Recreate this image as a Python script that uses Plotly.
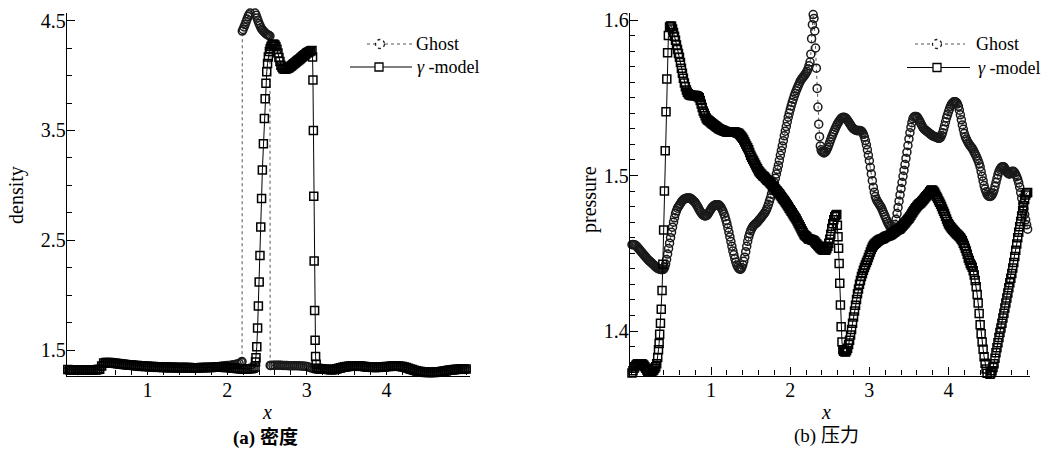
import plotly.graph_objects as go

DENS_STEP = 0.025    # base sampling grid of panel (a), x from 0 to 5
PRES_STEP = 0.0125   # base sampling grid of panel (b), x from 0 to 5

# ---------------- (a) density ----------------
dens_ghost_grid = [
    1.315, 1.316, 1.317, 1.316, 1.315, 1.314, 1.315, 1.316, 1.316, 1.315, 1.315, 1.316, 1.317, 1.316, 1.316, 1.317, 1.32,
    1.35, 1.375, 1.38, 1.381, 1.38, 1.378, 1.376, 1.373, 1.371, 1.369, 1.367, 1.365, 1.363, 1.361, 1.359, 1.357, 1.355, 1.353, 1.351, 1.35, 1.348, 1.347, 1.346, 1.345,
    1.344, 1.343, 1.342, 1.341, 1.34, 1.339, 1.338, 1.337, 1.336, 1.335, 1.335, 1.334, 1.334, 1.333, 1.333, 1.333, 1.333, 1.333, 1.333, 1.333,
    1.333, 1.333, 1.334, 1.334, 1.335, 1.336, 1.337, 1.338, 1.339, 1.34, 1.341, 1.342, 1.344, 1.346, 1.348, 1.35, 1.352, 1.354, 1.356, 1.358,
    1.36, 1.362, 1.365, 1.368, 1.372, 1.378, 1.388,
    4.42, 4.465, 4.515, 4.555, 4.58, 4.585, 4.57, 4.525, 4.475, 4.435, 4.41, 4.39, 4.375, 4.365,
    1.36, 1.361, 1.362, 1.362, 1.362, 1.361, 1.36, 1.359, 1.358, 1.357, 1.357, 1.357, 1.357, 1.357, 1.356, 1.355, 1.354, 1.352, 1.35,
    1.345, 1.338, 1.332, 1.328, 1.326, 1.325, 1.325, 1.325, 1.324, 1.322, 1.32, 1.318, 1.317, 1.318, 1.321, 1.325, 1.33, 1.335, 1.34, 1.343,
    1.346, 1.348, 1.35, 1.351, 1.351, 1.35, 1.349, 1.347, 1.345, 1.343, 1.341, 1.34, 1.339, 1.338, 1.338, 1.339, 1.34, 1.342, 1.344, 1.346,
    1.348, 1.35, 1.351, 1.351, 1.35, 1.348, 1.345, 1.341, 1.336, 1.33, 1.324, 1.318, 1.313, 1.308, 1.304, 1.3, 1.297, 1.295, 1.293, 1.292,
    1.291, 1.291, 1.291, 1.292, 1.293, 1.295, 1.297, 1.3, 1.303, 1.306, 1.309, 1.312, 1.315, 1.317, 1.319, 1.321, 1.322, 1.323, 1.323, 1.323,
]
dens_ghost_extra_x = [2.187, 2.19, 2.2125, 2.2375, 2.2625, 2.2875, 2.3125, 2.3375, 2.3625, 2.3875, 2.4125, 2.4375,
                      2.4625, 2.4875, 2.5125, 2.537, 2.54]
dens_ghost_extra_y = [1.395, 4.405, 4.443, 4.49, 4.537, 4.57, 4.585, 4.58, 4.55, 4.5, 4.455, 4.42,
                      4.4, 4.382, 4.37, 4.36, 1.36]

dens_gamma_grid = [
    1.322, 1.321, 1.32, 1.32, 1.319, 1.319, 1.32, 1.32, 1.32, 1.321, 1.321, 1.32, 1.32, 1.32, 1.321, 1.322, 1.325,
    1.355, 1.382, 1.386, 1.387, 1.386, 1.384, 1.382, 1.379, 1.377, 1.375, 1.373, 1.371, 1.369, 1.367, 1.365, 1.363, 1.361, 1.36, 1.358, 1.357, 1.355, 1.354, 1.353, 1.352,
    1.351, 1.35, 1.349, 1.348, 1.347, 1.347, 1.346, 1.345, 1.345, 1.344, 1.344, 1.343, 1.343, 1.342, 1.342, 1.341, 1.341, 1.34, 1.34, 1.34,
    1.34, 1.339, 1.339, 1.339, 1.339, 1.339, 1.34, 1.34, 1.341, 1.341, 1.342, 1.342, 1.343, 1.343, 1.344, 1.344, 1.344, 1.343, 1.342, 1.341,
    1.34, 1.338, 1.336, 1.334, 1.332, 1.33, 1.329, 1.328, 1.328, 1.328, 1.329, 1.33, 1.333, 1.345,
    None, None, None, None, None, None, None,
    4.265, 4.285, 4.278, 4.24, 4.165, 4.095, 4.065, 4.06, 4.063, 4.072, 4.085, 4.1, 4.115, 4.13, 4.145, 4.16, 4.175, 4.19, 4.205, 4.215, 4.225,
    None, None,
    1.335, 1.332, 1.33, 1.328, 1.326, 1.324, 1.322, 1.321, 1.322, 1.325, 1.329, 1.334, 1.339, 1.343, 1.347, 1.35,
    1.352, 1.354, 1.355, 1.356, 1.356, 1.355, 1.354, 1.352, 1.35, 1.348, 1.346, 1.345, 1.344, 1.343, 1.343, 1.344, 1.345, 1.346, 1.347, 1.349,
    1.351, 1.353, 1.354, 1.355, 1.355, 1.354, 1.352, 1.349, 1.345, 1.34, 1.334, 1.328, 1.322, 1.316, 1.311, 1.307, 1.304, 1.301, 1.299, 1.298,
    1.297, 1.297, 1.297, 1.298, 1.299, 1.301, 1.303, 1.306, 1.309, 1.312, 1.315, 1.318, 1.32, 1.322, 1.324, 1.326, 1.327, 1.328, 1.328, 1.328,
]
dens_gamma_extra_x = [2.356, 2.362, 2.372, 2.382, 2.392, 2.402, 2.412, 2.422, 2.432, 2.442, 2.455, 2.467, 2.477,
                      2.487, 2.497, 2.507, 2.517, 2.53, 2.54,
                      2.5625, 2.5875, 2.6125, 2.6375, 2.6625, 2.6875, 2.7125, 2.7375, 2.7625, 2.7875, 2.8125,
                      2.8375, 2.8625, 2.8875, 2.9125, 2.9375, 2.9625, 2.9875, 3.0125, 3.0375,
                      3.065, 3.072, 3.077, 3.082, 3.087, 3.092, 3.098, 3.104, 3.11, 3.117]
dens_gamma_extra_y = [1.39, 1.43, 1.53, 1.70, 1.90, 2.12, 2.36, 2.62, 2.88, 3.14, 3.38, 3.61, 3.79,
                      3.93, 4.035, 4.11, 4.17, 4.22, 4.245,
                      4.278, 4.285, 4.262, 4.205, 4.128, 4.077, 4.061, 4.06, 4.067, 4.078, 4.092,
                      4.107, 4.122, 4.137, 4.152, 4.167, 4.182, 4.197, 4.21, 4.22,
                      4.228, 4.17, 3.96, 3.50, 2.90, 2.31, 1.86, 1.59, 1.44, 1.37]

# ---------------- (b) pressure ----------------
pres_ghost_grid = [
    1.4555,
    1.4556, 1.4555, 1.4553, 1.455, 1.4543, 1.4535, 1.4528, 1.452, 1.4513, 1.4505,
    1.4498, 1.449, 1.4483, 1.4475, 1.4468, 1.446, 1.4454, 1.4448, 1.4443, 1.4437,
    1.4431, 1.4425, 1.4419, 1.4413, 1.4408, 1.4403, 1.44, 1.4398, 1.4396, 1.4395,
    1.4395, 1.4398, 1.4409, 1.443, 1.446, 1.4495, 1.453, 1.4565, 1.46, 1.4635,
    1.4668, 1.47, 1.4728, 1.4755, 1.4773, 1.479, 1.48, 1.481, 1.482, 1.483,
    1.4838, 1.4845, 1.4849, 1.4852, 1.4854, 1.4855, 1.4855, 1.4855, 1.4853, 1.485,
    1.4844, 1.4838, 1.4832, 1.4825, 1.4815, 1.4805, 1.4793, 1.478, 1.477, 1.476,
    1.4752, 1.4745, 1.4742, 1.474, 1.4742, 1.4745, 1.4755, 1.4765, 1.4775, 1.4785,
    1.4795, 1.4802, 1.4807, 1.481, 1.4812, 1.4812, 1.4812, 1.481, 1.4804, 1.4795,
    1.4783, 1.477, 1.4753, 1.4735, 1.4713, 1.469, 1.4663, 1.4635, 1.4605, 1.4575,
    1.4545, 1.4515, 1.449, 1.4465, 1.4443, 1.4425, 1.4412, 1.4403, 1.4398, 1.4398,
    1.4408, 1.4425, 1.4448, 1.4475, 1.451, 1.4545, 1.4577, 1.4605, 1.4627, 1.4645,
    1.4658, 1.467, 1.4678, 1.4685, 1.469, 1.4695, 1.4702, 1.471, 1.4718, 1.4725,
    1.4733, 1.4742, 1.475, 1.4758, 1.4768, 1.478, 1.4797, 1.4815, 1.4835, 1.4855,
    1.488, 1.4905, 1.493, 1.4955, 1.4983, 1.501, 1.5038, 1.5065, 1.5098, 1.513,
    1.516, 1.519, 1.5223, 1.5255, 1.5285, 1.5315, 1.5345, 1.5375, 1.54, 1.5425,
    1.5448, 1.547, 1.549, 1.551, 1.5528, 1.5545, 1.556, 1.5575, 1.559, 1.5605,
    1.5615, 1.5625, 1.5633, 1.564, 1.565, 1.566, 1.567, 1.5685, 1.5705, 1.573,
    None, None, None, None, None, None, None, None, None, None,
    None, 1.5155, 1.515, 1.5145, 1.5148, 1.5155, 1.5167, 1.518, 1.5197, 1.5215,
    1.5233, 1.525, 1.5265, 1.528, 1.5295, 1.531, 1.5323, 1.5335, 1.5345, 1.5355,
    1.5363, 1.537, 1.5373, 1.5375, 1.5373, 1.537, 1.5363, 1.5355, 1.5345, 1.5335,
    1.5325, 1.5315, 1.5307, 1.53, 1.5296, 1.5292, 1.529, 1.5288, 1.5289, 1.529,
    1.5288, 1.5285, 1.5277, 1.5265, 1.5247, 1.5225, 1.5197, 1.5165, 1.513, 1.5095,
    1.5053, 1.501, 1.4967, 1.4925, 1.4893, 1.4865, 1.4848, 1.4835, 1.4825, 1.4815,
    1.4805, 1.4795, 1.478, 1.4765, 1.475, 1.4735, 1.472, 1.4705, 1.4692, 1.468,
    1.467, 1.466, 1.4652, 1.465, 1.4662, 1.4685, 1.4718, 1.4755, 1.4795, 1.4835,
    1.4875, 1.4915, 1.4955, 1.4995, 1.5033, 1.507, 1.511, 1.515, 1.5193, 1.5235,
    1.5275, 1.531, 1.534, 1.5365, 1.5375, 1.538, 1.538, 1.5378, 1.537, 1.536,
    1.5348, 1.5335, 1.5322, 1.531, 1.5302, 1.5295, 1.529, 1.5285, 1.528, 1.5275,
    1.527, 1.5265, 1.526, 1.5255, 1.5253, 1.525, 1.5248, 1.5245, 1.5242, 1.524,
    1.524, 1.5245, 1.5258, 1.5275, 1.5297, 1.532, 1.5345, 1.537, 1.539, 1.541,
    1.5428, 1.5445, 1.5457, 1.5465, 1.5472, 1.5475, 1.5474, 1.547, 1.546, 1.5445,
    1.542, 1.539, 1.5358, 1.5325, 1.5297, 1.527, 1.525, 1.5235, 1.5222, 1.521,
    1.52, 1.519, 1.5183, 1.5175, 1.5163, 1.515, 1.5138, 1.5125, 1.511, 1.5095,
    1.5077, 1.5055, 1.5025, 1.4995, 1.4965, 1.4935, 1.4913, 1.4895, 1.488, 1.487,
    1.4866, 1.4865, 1.4868, 1.4875, 1.4888, 1.4905, 1.493, 1.4955, 1.498, 1.5005,
    1.5025, 1.504, 1.505, 1.5055, 1.5057, 1.5055, 1.5046, 1.5035, 1.5024, 1.5015,
    1.501, 1.501, 1.5017, 1.5025, 1.5027, 1.5025, 1.5017, 1.5005, 1.4992, 1.4975,
    1.4952, 1.4925, 1.489, 1.4855, 1.482, 1.4785, 1.475, 1.4715, 1.4683, 1.4655,
]
pres_ghost_extra_x = [2.26, 2.27, 2.28, 2.29, 2.30, 2.31, 2.32, 2.33, 2.34, 2.35, 2.36, 2.37, 2.38, 2.39]
pres_ghost_extra_y = [1.578, 1.588, 1.597, 1.6035, 1.601, 1.593, 1.582, 1.569, 1.556, 1.544, 1.533, 1.525, 1.519, 1.5165]

pres_gamma_grid = [
    1.373,
    1.3745, 1.376, 1.377, 1.378, 1.3786, 1.379, 1.379, 1.379, 1.379, 1.379,
    1.3785, 1.378, 1.377, 1.376, 1.375, 1.374, 1.3737, 1.3735, 1.3737, 1.374,
    1.3745, 1.375, 1.376, 1.377, 1.379, 1.383, None, None, None, None,
    None, None, None, None, None, None, None, 1.5955, 1.5962, 1.596,
    1.5942, 1.592, 1.5895, 1.587, 1.584, 1.581, 1.5785, 1.576, 1.5727, 1.569,
    1.5657, 1.5625, 1.5595, 1.557, 1.555, 1.5535, 1.5525, 1.552, 1.5517, 1.5515,
    1.5515, 1.5515, 1.5515, 1.5515, 1.5513, 1.551, 1.5507, 1.55, 1.5483, 1.546,
    1.5437, 1.5415, 1.54, 1.5385, 1.537, 1.536, 1.5355, 1.535, 1.5345, 1.534,
    1.5335, 1.533, 1.5325, 1.532, 1.5315, 1.531, 1.5305, 1.53, 1.5297, 1.5295,
    1.5292, 1.529, 1.5287, 1.5285, 1.5282, 1.528, 1.528, 1.528, 1.528, 1.528,
    1.528, 1.528, 1.528, 1.528, 1.5278, 1.5275, 1.5273, 1.527, 1.5263, 1.5255,
    1.5248, 1.524, 1.5228, 1.5215, 1.5203, 1.519, 1.5178, 1.5165, 1.5148, 1.513,
    1.5118, 1.5105, 1.5093, 1.508, 1.5068, 1.5055, 1.5043, 1.503, 1.5022, 1.5015,
    1.5008, 1.5, 1.4995, 1.499, 1.4983, 1.4975, 1.497, 1.4965, 1.4958, 1.495,
    1.4943, 1.4935, 1.4928, 1.492, 1.4913, 1.4905, 1.4898, 1.489, 1.4883, 1.4875,
    1.4865, 1.4855, 1.4848, 1.484, 1.483, 1.482, 1.481, 1.48, 1.479, 1.478,
    1.477, 1.476, 1.475, 1.474, 1.473, 1.472, 1.4708, 1.4695, 1.4683, 1.467,
    1.4658, 1.4645, 1.4633, 1.462, 1.4615, 1.461, 1.4603, 1.4595, 1.4592, 1.459,
    1.4588, 1.4585, 1.4583, 1.458, 1.4573, 1.4565, 1.4558, 1.455, 1.4543, 1.4535,
    1.453, 1.4525, 1.4522, 1.452, 1.452, 1.452, 1.453, 1.4545, 1.4565, 1.459,
    1.4623, 1.466, 1.469, 1.4715, 1.4735, 1.4745, None, None, None, None,
    None, None, None, 1.387, 1.3866, 1.3865, 1.3875, 1.389, 1.3913, 1.394,
    1.3975, 1.401, 1.405, 1.409, 1.4128, 1.4165, 1.4203, 1.424, 1.427, 1.43,
    1.4325, 1.435, 1.437, 1.439, 1.4408, 1.4425, 1.444, 1.4455, 1.4473, 1.449,
    1.4508, 1.4525, 1.4538, 1.455, 1.4558, 1.4565, 1.457, 1.4575, 1.458, 1.4585,
    1.4588, 1.459, 1.4593, 1.4595, 1.46, 1.4605, 1.4608, 1.461, 1.4613, 1.4615,
    1.4618, 1.462, 1.4625, 1.463, 1.4635, 1.464, 1.4645, 1.465, 1.4653, 1.4655,
    1.466, 1.4665, 1.4673, 1.468, 1.4688, 1.4695, 1.4703, 1.471, 1.4718, 1.4725,
    1.4735, 1.4745, 1.4755, 1.4765, 1.4775, 1.4785, 1.4793, 1.48, 1.4808, 1.4815,
    1.482, 1.4825, 1.4833, 1.484, 1.4848, 1.4855, 1.4863, 1.487, 1.4878, 1.4885,
    1.4895, 1.4903, 1.4907, 1.4905, 1.4898, 1.489, 1.4878, 1.4865, 1.4853, 1.484,
    1.4828, 1.4815, 1.48, 1.4785, 1.477, 1.4755, 1.4738, 1.472, 1.4705, 1.469,
    1.468, 1.467, 1.4663, 1.4655, 1.4648, 1.464, 1.4633, 1.4625, 1.462, 1.4615,
    1.4608, 1.46, 1.459, 1.458, 1.4565, 1.455, 1.4533, 1.4515, 1.4493, 1.447,
    1.4453, 1.4435, 1.4423, 1.441, 1.4388, 1.436, 1.4325, 1.4285, 1.4235, 1.418,
    1.4113, 1.404, 1.3983, 1.393, 1.3882, 1.3835, 1.3793, 1.3755, 1.3728, 1.3708,
    1.3712, 1.3722, 1.3732, 1.3745, 1.3765, 1.379, 1.3825, 1.386, 1.3893, 1.3925,
    1.3958, 1.399, 1.402, 1.405, 1.4083, 1.4115, 1.4148, 1.418, 1.4213, 1.4245,
    1.4278, 1.431, 1.434, 1.437, 1.4405, 1.444, 1.448, 1.452, 1.456, 1.46,
    1.4635, 1.467, 1.4705, 1.474, 1.4773, 1.4805, 1.4845, 1.4875, 1.4888, 1.489,
]
pres_gamma_extra_x = [0.335, 0.343, 0.35, 0.36, 0.37, 0.38, 0.39, 0.40, 0.41, 0.42, 0.43, 0.44, 0.45, 0.46,
                      2.588, 2.596, 2.604, 2.611, 2.618, 2.626, 2.634, 2.643, 2.654, 2.665]
pres_gamma_extra_y = [1.388, 1.392, 1.398, 1.405, 1.414, 1.426, 1.443, 1.465, 1.49, 1.516, 1.541, 1.562, 1.579, 1.59,
                      1.475, 1.468, 1.4606, 1.4532, 1.4435, 1.4307, 1.4167, 1.4028, 1.393, 1.388]

x_tick_vals = [1, 2, 3, 4]
dens_tick_vals = [1.5, 2.5, 3.5, 4.5]
pres_tick_vals = [1.4, 1.5, 1.6]


def build(grid, step, ex_x, ex_y):
    n = round(5.0 / step) + 1
    assert len(grid) == n, (len(grid), n)
    pts = [(round(i * step, 5), v) for i, v in enumerate(grid) if v is not None]
    pts += list(zip(ex_x, ex_y))
    pts.sort()
    return [p[0] for p in pts], [p[1] for p in pts]


SERIF = "Liberation Serif, Times New Roman, serif"
CJK = "Liberation Serif, Noto Sans CJK SC, serif"
W, H = 1059, 451


def px(v):
    return v / W


def py(v):
    return 1 - v / H


fig = go.Figure()

ghost_style = dict(mode="lines+markers",
                   line=dict(color="#555555", width=1, dash="dot"),
                   marker=dict(symbol="circle-open", size=8, color="#1a1a1a", line=dict(width=1.5)),
                   cliponaxis=False, name="Ghost", showlegend=False)
gamma_style = dict(mode="lines+markers",
                   line=dict(color="black", width=1),
                   marker=dict(symbol="square-open", size=8, color="black", line=dict(width=1.5)),
                   cliponaxis=False, name="γ-model", showlegend=False)

x, y = build(dens_ghost_grid, DENS_STEP, dens_ghost_extra_x, dens_ghost_extra_y)
fig.add_trace(go.Scatter(x=x, y=y, xaxis="x", yaxis="y", **ghost_style))
x, y = build(dens_gamma_grid, DENS_STEP, dens_gamma_extra_x, dens_gamma_extra_y)
fig.add_trace(go.Scatter(x=x, y=y, xaxis="x", yaxis="y", **gamma_style))
x, y = build(pres_ghost_grid, PRES_STEP, pres_ghost_extra_x, pres_ghost_extra_y)
fig.add_trace(go.Scatter(x=x, y=y, xaxis="x2", yaxis="y2", **ghost_style))
x, y = build(pres_gamma_grid, PRES_STEP, pres_gamma_extra_x, pres_gamma_extra_y)
fig.add_trace(go.Scatter(x=x, y=y, xaxis="x2", yaxis="y2", **gamma_style))

axis_common = dict(showline=True, linecolor="black", linewidth=1.3, mirror=False, automargin=False,
                   showgrid=False, zeroline=False, ticks="inside", ticklen=8, tickwidth=1.2,
                   tickcolor="black", tickfont=dict(family=SERIF, size=20, color="black"))

fig.update_layout(
    width=W, height=H, autosize=False,
    margin=dict(l=0, r=0, t=0, b=0, autoexpand=False),
    paper_bgcolor="white", plot_bgcolor="white",
    showlegend=False,
    xaxis=dict(domain=[px(67), px(470)], range=[-0.01, 5.048], anchor="y",
               tickmode="array", tickvals=x_tick_vals, ticklabelstandoff=-4,
               minor=dict(ticks="inside", ticklen=5, dtick=0.2, tick0=0, tickcolor="black", tickwidth=1),
               **axis_common),
    yaxis=dict(domain=[py(375.5), py(13)], range=[1.268, 4.57], anchor="x",
               tickmode="array", tickvals=dens_tick_vals, ticktext=["1.5", "2.5", "3.5", "4.5"],
               ticklabelstandoff=-4,
               minor=dict(ticks="inside", ticklen=5, dtick=0.25, tick0=1.5, tickcolor="black", tickwidth=1),
               **axis_common),
    xaxis2=dict(domain=[px(630), px(1030)], range=[-0.025, 5.03], anchor="y2",
                tickmode="array", tickvals=x_tick_vals, ticklabelstandoff=-4,
                minor=dict(ticks="inside", ticklen=5, dtick=0.2, tick0=0, tickcolor="black", tickwidth=1),
                **axis_common),
    yaxis2=dict(domain=[py(375.5), py(13)], range=[1.3714, 1.6045], anchor="x2",
                tickmode="array", tickvals=pres_tick_vals, ticktext=["1.4", "1.5", "1.6"],
                ticklabelstandoff=-4,
                minor=dict(ticks="inside", ticklen=5, dtick=0.01, tick0=1.4, tickcolor="black", tickwidth=1),
                **axis_common),
)

# ---- legend keys drawn as layout decorations (line sample + symbol + label) ----
shapes = []
ann = []


def legend_key(x_line0, x_line1, x_sym, y_row, kind):
    if kind == "ghost":
        shapes.append(dict(type="line", xref="paper", yref="paper", x0=px(x_line0), x1=px(x_line1),
                           y0=py(y_row), y1=py(y_row), line=dict(color="#555555", width=1, dash="dot")))
        shapes.append(dict(type="circle", xref="paper", yref="paper", xsizemode="pixel", ysizemode="pixel",
                           xanchor=px(x_sym), yanchor=py(y_row), x0=-4.5, x1=4.5, y0=-4.5, y1=4.5,
                           fillcolor="white", line=dict(color="#1a1a1a", width=1.3, dash="dot")))
    else:
        shapes.append(dict(type="line", xref="paper", yref="paper", x0=px(x_line0), x1=px(x_line1),
                           y0=py(y_row), y1=py(y_row), line=dict(color="black", width=1)))
        shapes.append(dict(type="rect", xref="paper", yref="paper", xsizemode="pixel", ysizemode="pixel",
                           xanchor=px(x_sym), yanchor=py(y_row), x0=-4, x1=4, y0=-4, y1=4,
                           fillcolor="white", line=dict(color="black", width=1.3)))


legend_key(367, 412, 380, 44, "ghost")
legend_key(350, 412, 379, 67, "gamma")
legend_key(915, 965, 937, 44, "ghost")
legend_key(907, 970, 937, 67.5, "gamma")

for xl, yl, txt in [(415, 44, "Ghost"), (416, 67, "<i>γ</i> -model"),
                    (975, 44, "Ghost"), (977, 67.5, "<i>γ</i> -model")]:
    ann.append(dict(text=txt, x=px(xl), y=py(yl), xref="paper", yref="paper", xanchor="left",
                    yanchor="middle", showarrow=False, borderpad=0,
                    font=dict(family=SERIF, size=18, color="black")))

ann.append(dict(text="density", x=px(16), y=py(195), xref="paper", yref="paper", textangle=-90,
                xanchor="center", yanchor="middle",
                showarrow=False, font=dict(family=SERIF, size=20, color="black")))
ann.append(dict(text="pressure", x=px(589), y=py(200), xref="paper", yref="paper", textangle=-90,
                xanchor="center", yanchor="middle",
                showarrow=False, font=dict(family=SERIF, size=20, color="black")))
ann.append(dict(text="<i>x</i>", x=px(267), y=py(412), xref="paper", yref="paper",
                xanchor="center", yanchor="middle",
                showarrow=False, font=dict(family=SERIF, size=20, color="black")))
ann.append(dict(text="<i>x</i>", x=px(826), y=py(412), xref="paper", yref="paper",
                xanchor="center", yanchor="middle",
                showarrow=False, font=dict(family=SERIF, size=20, color="black")))
ann.append(dict(text="<b>(a) 密度</b>", x=px(265), y=py(437), xref="paper", yref="paper",
                xanchor="center", yanchor="middle",
                showarrow=False, font=dict(family=CJK, size=19, color="black")))
ann.append(dict(text="(b) 压力", x=px(826), y=py(436), xref="paper", yref="paper",
                xanchor="center", yanchor="middle",
                showarrow=False, font=dict(family=CJK, size=19, color="black")))
fig.update_layout(shapes=shapes, annotations=ann)

fig.write_html("out.html", config={"displayModeBar": False},
               post_script="document.body.style.margin='0';document.body.style.padding='0';")
